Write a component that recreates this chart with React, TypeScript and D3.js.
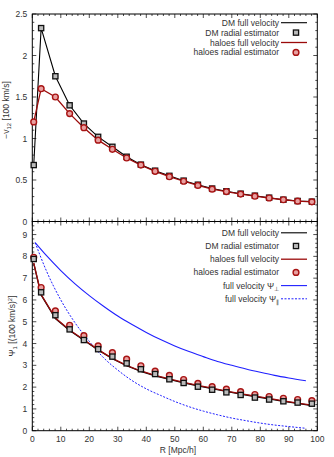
import React from "react";
import * as d3 from "d3";

// ---------- data ----------
const R = [0.5, 3.1, 8.1, 13.1, 18.1, 23.1, 28.1, 33.1, 38.1, 43.1, 48.1, 53.1, 58.1, 63.1, 68.1, 73.1, 78.1, 83.1, 88.1, 93.1, 98.1];

// top panel: -v12 [100 km/s]
const dmRadialTop = [0.68, 2.33, 1.75, 1.40, 1.18, 1.02, 0.90, 0.78, 0.685, 0.612, 0.55, 0.492, 0.443, 0.397, 0.364, 0.335, 0.311, 0.287, 0.263, 0.247, 0.239];
const dmFullTop = [0.68, 2.33, 1.75, 1.40, 1.18, 1.02, 0.90, 0.78, 0.685, 0.612, 0.55, 0.492, 0.443, 0.397, 0.364, 0.335, 0.311, 0.287, 0.263, 0.247, 0.239];
const haloRadialTop = [1.20, 1.60, 1.50, 1.30, 1.13, 0.98, 0.87, 0.765, 0.68, 0.605, 0.54, 0.485, 0.435, 0.39, 0.36, 0.33, 0.305, 0.283, 0.262, 0.245, 0.237];
const haloFullTop = [1.20, 1.60, 1.50, 1.30, 1.13, 0.98, 0.87, 0.765, 0.68, 0.605, 0.54, 0.485, 0.435, 0.39, 0.36, 0.33, 0.305, 0.283, 0.262, 0.245, 0.237];

// bottom panel: Psi_1 [(100 km/s)^2]
const dmRadialBot = [7.88, 6.35, 5.30, 4.65, 4.16, 3.74, 3.40, 3.09, 2.82, 2.60, 2.36, 2.19, 2.02, 1.88, 1.76, 1.64, 1.52, 1.43, 1.35, 1.29, 1.24];
const haloRadialBot = [7.96, 6.57, 5.50, 4.84, 4.36, 3.89, 3.58, 3.28, 2.98, 2.73, 2.54, 2.35, 2.17, 2.02, 1.91, 1.79, 1.66, 1.57, 1.49, 1.43, 1.38];
const dmFullBot = [7.68, 6.23, 5.15, 4.60, 4.15, 3.70, 3.30, 2.98, 2.72, 2.52, 2.36, 2.20, 2.06, 1.93, 1.80, 1.68, 1.57, 1.46, 1.35, 1.25, 1.15];
const haloFullBot = [7.70, 6.25, 5.17, 4.62, 4.17, 3.72, 3.32, 3.00, 2.74, 2.54, 2.38, 2.22, 2.08, 1.95, 1.82, 1.70, 1.59, 1.48, 1.37, 1.27, 1.17];

const Rpsi = [1, 5, 10, 15, 20, 25, 30, 35, 40, 45, 50, 55, 60, 65, 70, 75, 80, 85, 90, 96];
const psiPerp = [8.63, 8.03, 7.35, 6.74, 6.20, 5.71, 5.26, 4.87, 4.51, 4.18, 3.89, 3.63, 3.40, 3.18, 3.00, 2.83, 2.68, 2.54, 2.42, 2.29];
const psiPar = [8.63, 7.32, 6.00, 4.95, 4.10, 3.35, 2.78, 2.30, 1.92, 1.62, 1.34, 1.10, 0.90, 0.73, 0.58, 0.46, 0.35, 0.26, 0.19, 0.11];

const xTicks = [0, 10, 20, 30, 40, 50, 60, 70, 80, 90, 100];
const yTopTicks = [0, 0.5, 1, 1.5, 2, 2.5];
const yBotTicks = [0, 1, 2, 3, 4, 5, 6, 7, 8, 9];

// ---------- layout ----------
const W = 334, H = 457;
const X0 = 32.3, X1 = 317.3;
const TOP_Y0 = 14, TOP_Y1 = 221.5, BOT_Y1 = 430.7;
const FONT = "'Liberation Sans', Arial, sans-serif";
const RED = "#9b0a0a";
const BLUE = "#1f1fff";
const TXT = "#333";

const x = d3.scaleLinear().domain([0, 100]).range([X0, X1]);
const yTop = d3.scaleLinear().domain([0, 2.5]).range([TOP_Y1, TOP_Y0]);
const yBot = d3.scaleLinear().domain([0, 9.6]).range([BOT_Y1, TOP_Y1]);

function Square({ cx, cy }: { cx: number; cy: number }) {
  return <rect x={cx - 2.6} y={cy - 2.6} width={5.2} height={5.2} fill="#bbb" stroke="#111" strokeWidth={1.3} />;
}
function Circ({ cx, cy }: { cx: number; cy: number }) {
  return <circle cx={cx} cy={cy} r={2.9} fill="#e8a0a0" stroke="#a81414" strokeWidth={1.4} />;
}

function Frame({ y, y0, y1, ticks, minor, showX, fmt }: any) {
  const els: any[] = [];
  const xMinor = d3.range(0, 100.01, 2);
  xMinor.forEach((v, i) => {
    const major = Math.abs(v % 10) < 1e-6;
    const L = major ? 4 : 2;
    els.push(<line key={"xb" + i} x1={x(v)} x2={x(v)} y1={y1} y2={y1 - L} stroke="#000" strokeWidth={0.7} />);
    els.push(<line key={"xt" + i} x1={x(v)} x2={x(v)} y1={y0} y2={y0 + L} stroke="#000" strokeWidth={0.7} />);
  });
  minor.forEach((v: number, i: number) => {
    const isMajor = ticks.some((t: number) => Math.abs(t - v) < 1e-6);
    const L = isMajor ? 4 : 2;
    els.push(<line key={"yl" + i} x1={X0} x2={X0 + L} y1={y(v)} y2={y(v)} stroke="#000" strokeWidth={0.7} />);
    els.push(<line key={"yr" + i} x1={X1} x2={X1 - L} y1={y(v)} y2={y(v)} stroke="#000" strokeWidth={0.7} />);
  });
  ticks.forEach((t: number, i: number) => {
    els.push(
      <text key={"yt" + i} x={X0 - 5} y={y(t) + 3} textAnchor="end" fontSize={8.5} fontFamily={FONT} fill={TXT}>
        {fmt(t)}
      </text>
    );
  });
  if (showX) {
    xTicks.forEach((t, i) => {
      els.push(
        <text key={"xl" + i} x={x(t)} y={y1 + 11.5} textAnchor="middle" fontSize={8.5} fontFamily={FONT} fill={TXT}>
          {t}
        </text>
      );
    });
  }
  els.push(<rect key="fr" x={X0} y={y0} width={X1 - X0} height={y1 - y0} fill="none" stroke="#000" strokeWidth={1} />);
  return <g>{els}</g>;
}

export default function App() {
  const lineTop = d3.line<number>().x((_, i) => x(R[i])).y((d) => yTop(d));
  const lineBot = d3.line<number>().x((_, i) => x(R[i])).y((d) => yBot(d));
  const linePsi = d3.line<number>().x((_, i) => x(Rpsi[i])).y((d) => yBot(d)).curve(d3.curveMonotoneX);

  const legX = 279, sampleX0 = 281, sampleX1 = 307, markX = 296;
  const topLeg = [22.7, 32.6, 42.5, 52.4];
  const botLeg = [232.8, 246, 259.2, 272.4, 285.6, 298.8];
  const fs = 8.5;

  return (
    <svg width={W} height={H} style={{ position: "absolute", left: 0, top: 0, background: "#fff" }}>
      <rect width={W} height={H} fill="#fff" />
      {/* top panel */}
      <Frame y={yTop} y0={TOP_Y0} y1={TOP_Y1} ticks={yTopTicks} minor={d3.range(0, 2.501, 0.1)} showX={false} fmt={(t: number) => String(t)} />
      <path d={lineTop(dmFullTop) || ""} fill="none" stroke="#000" strokeWidth={1.1} />
      <path d={lineTop(haloFullTop) || ""} fill="none" stroke={RED} strokeWidth={1.3} />
      {dmRadialTop.map((v, i) => <Square key={"st" + i} cx={x(R[i])} cy={yTop(v)} />)}
      {haloRadialTop.map((v, i) => <Circ key={"ct" + i} cx={x(R[i])} cy={yTop(v)} />)}

      {/* top legend */}
      <g fontFamily={FONT} fontSize={fs} fill={TXT} textAnchor="end">
        <text x={legX} y={topLeg[0] + 3}>DM full velocity</text>
        <text x={legX} y={topLeg[1] + 3}>DM radial estimator</text>
        <text x={legX} y={topLeg[2] + 3}>haloes full velocity</text>
        <text x={legX} y={topLeg[3] + 3}>haloes radial estimator</text>
      </g>
      <line x1={sampleX0} x2={sampleX1} y1={topLeg[0]} y2={topLeg[0]} stroke="#000" strokeWidth={1.1} />
      <Square cx={markX} cy={topLeg[1]} />
      <line x1={sampleX0} x2={sampleX1} y1={topLeg[2]} y2={topLeg[2]} stroke={RED} strokeWidth={1.3} />
      <Circ cx={markX} cy={topLeg[3]} />

      {/* bottom panel */}
      <Frame y={yBot} y0={TOP_Y1} y1={BOT_Y1} ticks={yBotTicks} minor={d3.range(0, 9.601, 0.2)} showX={true} fmt={(t: number) => String(t)} />
      <path d={linePsi(psiPerp) || ""} fill="none" stroke={BLUE} strokeWidth={1.1} />
      <path d={linePsi(psiPar) || ""} fill="none" stroke={BLUE} strokeWidth={1} strokeDasharray="2,1.5" />
      <path d={lineBot(dmFullBot) || ""} fill="none" stroke="#000" strokeWidth={1.3} />
      <path d={lineBot(haloFullBot) || ""} fill="none" stroke={RED} strokeWidth={1.3} />
      {haloRadialBot.map((v, i) => <Circ key={"cb" + i} cx={x(R[i])} cy={yBot(v)} />)}
      {dmRadialBot.map((v, i) => <Square key={"sb" + i} cx={x(R[i])} cy={yBot(v)} />)}

      {/* bottom legend */}
      <g fontFamily={FONT} fontSize={fs} fill={TXT} textAnchor="end">
        <text x={legX} y={botLeg[0] + 3}>DM full velocity</text>
        <text x={legX} y={botLeg[1] + 3}>DM radial estimator</text>
        <text x={legX} y={botLeg[2] + 3}>haloes full velocity</text>
        <text x={legX} y={botLeg[3] + 3}>haloes radial estimator</text>
        <text x={legX} y={botLeg[4] + 3}>
          full velocity Ψ<tspan fontSize={6} dy={2.5}>⊥</tspan>
        </text>
        <text x={legX} y={botLeg[5] + 3}>
          full velocity Ψ<tspan fontSize={6} dy={2.5}>∥</tspan>
        </text>
      </g>
      <line x1={sampleX0} x2={sampleX1} y1={botLeg[0]} y2={botLeg[0]} stroke="#000" strokeWidth={1.1} />
      <Square cx={markX} cy={botLeg[1]} />
      <line x1={sampleX0} x2={sampleX1} y1={botLeg[2]} y2={botLeg[2]} stroke={RED} strokeWidth={1.3} />
      <Circ cx={markX} cy={botLeg[3]} />
      <line x1={sampleX0} x2={sampleX1} y1={botLeg[4]} y2={botLeg[4]} stroke={BLUE} strokeWidth={1.1} />
      <line x1={sampleX0} x2={sampleX1} y1={botLeg[5]} y2={botLeg[5]} stroke={BLUE} strokeWidth={1} strokeDasharray="2,1.5" />

      {/* axis labels */}
      <text x={178} y={453} textAnchor="middle" fontFamily={FONT} fontSize={fs} fill={TXT}>R [Mpc/h]</text>
      <text transform="translate(9,110) rotate(-90)" textAnchor="middle" fontFamily={FONT} fontSize={fs} fill={TXT}>
        −v<tspan fontSize={6} dy={2}>12</tspan><tspan dy={-2}> [100 km/s]</tspan>
      </text>
      <text transform="translate(15,326) rotate(-90)" textAnchor="middle" fontFamily={FONT} fontSize={fs} fill={TXT}>
        Ψ<tspan fontSize={6} dy={2}>1</tspan><tspan dy={-2}> [(100 km/s)</tspan><tspan fontSize={6} dy={-3}>2</tspan><tspan dy={3}>]</tspan>
      </text>
    </svg>
  );
}
